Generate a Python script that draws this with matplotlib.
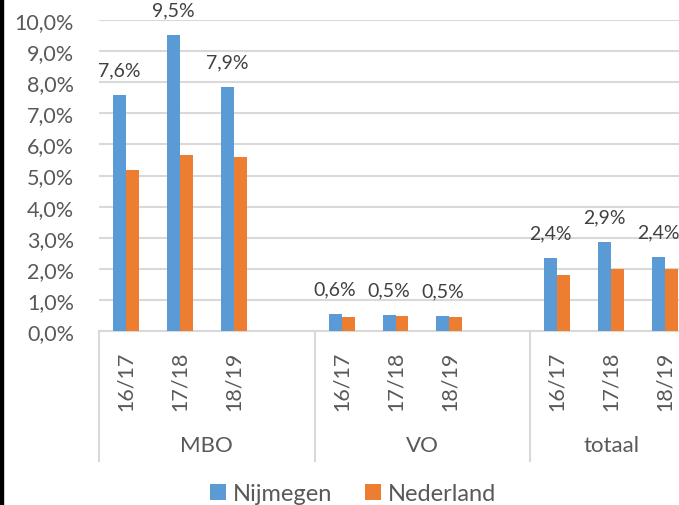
## Percentage bars Nijmegen vs Nederland ##

import matplotlib
matplotlib.use("Agg")
import matplotlib.pyplot as plt
from matplotlib.patches import Rectangle
import numpy as np

groups = ["MBO", "VO", "totaal"]
years = ["16/17", "17/18", "18/19"]
nijmegen = [7.60, 9.52, 7.86, 0.55, 0.52, 0.49, 2.35, 2.86, 2.37]
nederland = [5.17, 5.66, 5.58, 0.45, 0.47, 0.46, 1.81, 2.00, 1.99]
nijmegen_labels = ["7,6%", "9,5%", "7,9%", "0,6%", "0,5%", "0,5%", "2,4%", "2,9%", "2,4%"]
y_ticks = [0, 1, 2, 3, 4, 5, 6, 7, 8, 9, 10]

plt.rcParams['font.family'] = ['Lato', 'DejaVu Sans']
grey = "#595959"
blue = "#5B9BD5"
orange = "#ED7D31"
gridc = "#D9D9D9"

fig = plt.figure(figsize=(6.79, 5.06), dpi=100)
# axes: x=-0.5 at 99px, x=10.5 at 692px, y=0 at 332px, y=10 at 21px
ax = fig.add_axes([99/679, (506-332)/506, (692-99)/679, (332-21)/506])

# 3 slots per group plus an empty slot between groups
pos = []
for g in range(len(groups)):
    for k in range(len(years)):
        pos.append(g*4 + k)
pos = np.array(pos)

w = 0.24
ax.bar(pos - w/2, nijmegen, w, color=blue, label="Nijmegen", zorder=3)
ax.bar(pos + w/2, nederland, w, color=orange, label="Nederland", zorder=3)

for x, v, t in zip(pos, nijmegen, nijmegen_labels):
    ax.annotate(t, (x - w/2, v), xytext=(0, 12), textcoords="offset points",
                ha="center", va="bottom", fontsize=14, color="#404040")

ax.set_xlim(-0.5, 10.5)
ax.set_ylim(0, 10)
ax.set_yticks(y_ticks)
ax.set_yticklabels([("%.1f%%" % v).replace(".", ",") for v in y_ticks])
ax.yaxis.grid(True, color=gridc, linewidth=1.5, zorder=0)
ax.tick_params(axis="y", length=0, pad=18, labelsize=15.5, labelcolor=grey)

ax.set_xticks(pos)
ax.set_xticklabels(years * len(groups), rotation=90)
ax.tick_params(axis="x", length=0, pad=14, labelsize=15.5, labelcolor=grey)

for s in ["top", "right", "left"]:
    ax.spines[s].set_visible(False)
ax.spines["bottom"].set_color(gridc)
ax.spines["bottom"].set_linewidth(1.5)

# group separators and group names below the axis
trans = ax.get_xaxis_transform()
ax_h = 332 - 21
sep_bottom = -(462 - 332) / ax_h
for xs in [-0.5, 3.5, 7.5]:
    ax.plot([xs, xs], [0, sep_bottom], transform=trans, color=gridc,
            linewidth=1.5, clip_on=False)
for name, xc in zip(groups, [1.5, 5.5, 9.0]):
    ax.text(xc, -(446 - 332) / ax_h, name, transform=trans, ha="center",
            va="center", fontsize=16, color=grey)

fig.legend(loc="lower center", bbox_to_anchor=(0.52, -0.04), ncol=2, frameon=False,
           fontsize=17, labelcolor=grey, handlelength=0.65, handleheight=0.65,
           handletextpad=0.3, columnspacing=1.4)

# dark strip at the left edge of the screenshot
fig.add_artist(Rectangle((0, 0), 3/679, 1, transform=fig.transFigure, color="black"))

fig.savefig("out.png", dpi=100)
